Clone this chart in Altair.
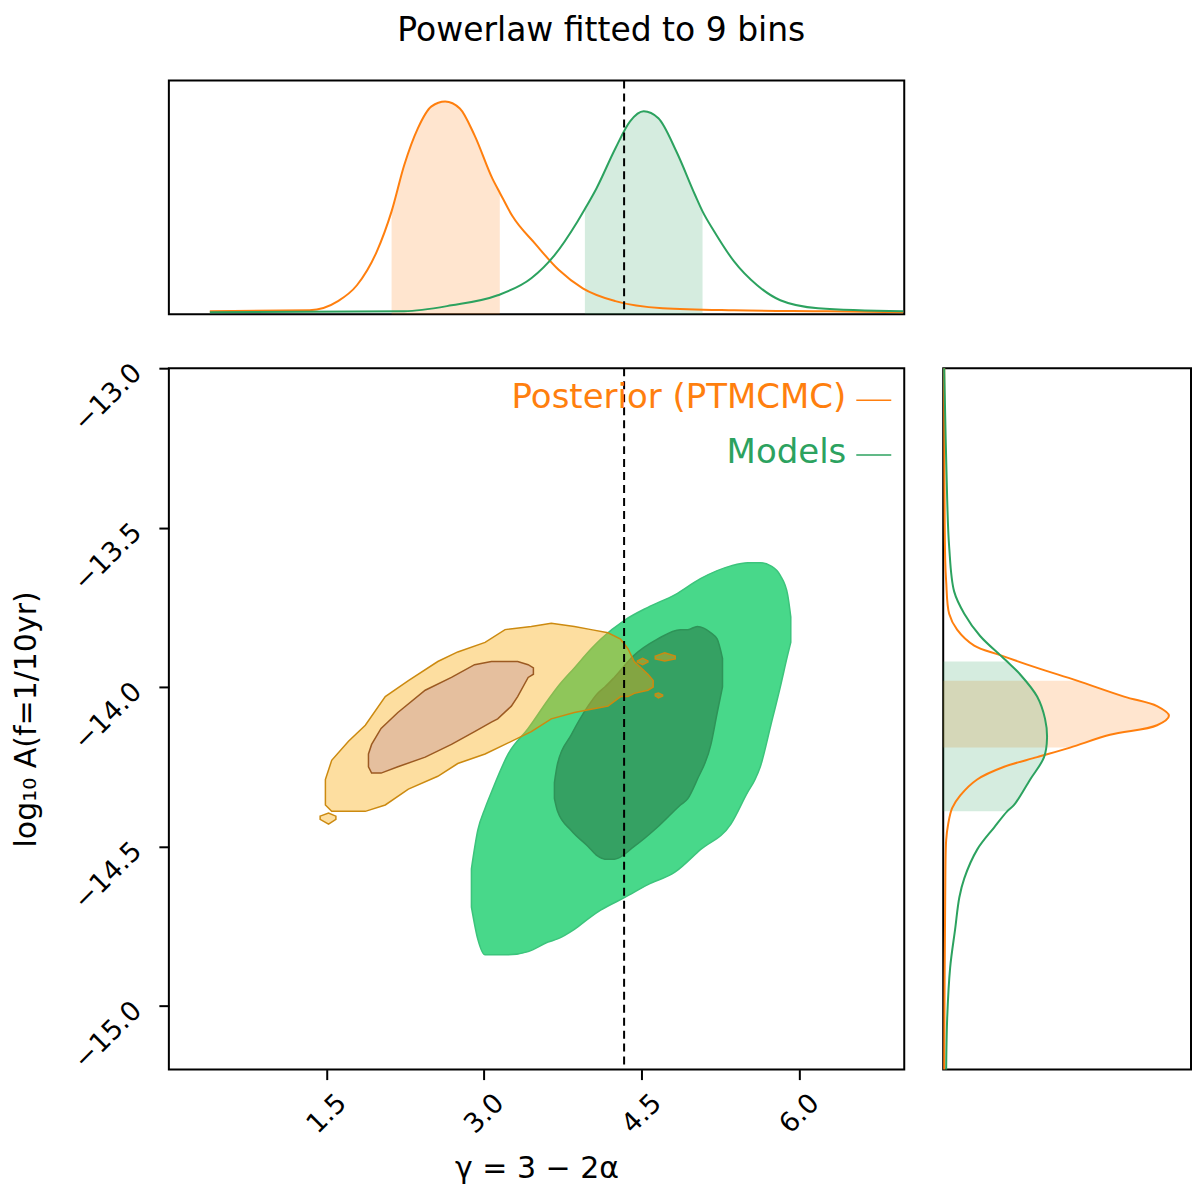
import altair as alt
import pandas as pd

##### Values

x_domain = [0.0, 7.0]
y_domain = [-15.2, -13.0]
x_ticks = [1.5, 3.0, 4.5, 6.0]
y_ticks = [-13.0, -13.5, -14.0, -14.5, -15.0]
gamma_ref = 13 / 3

# 2D credible regions: x -> (upper, lower) edge
green_outer_x = [2.88, 2.94, 3.01, 3.07, 3.23, 3.42, 3.61, 3.70, 3.86, 4.02, 4.11, 4.34,
                 4.56, 4.82, 5.06, 5.35, 5.51, 5.58, 5.63, 5.73, 5.82, 5.89, 5.92]
green_outer_hi = [-14.57, -14.45, -14.38, -14.33, -14.21, -14.13, -14.04, -14.00, -13.94, -13.88,
                  -13.85, -13.79, -13.75, -13.71, -13.66, -13.62, -13.61, -13.61, -13.61, -13.62,
                  -13.65, -13.71, -13.78]
green_outer_lo = [-14.69, -14.79, -14.84, -14.84, -14.84, -14.83, -14.80, -14.79, -14.76, -14.72,
                  -14.70, -14.66, -14.62, -14.58, -14.51, -14.43, -14.33, -14.29, -14.25, -14.12,
                  -14.00, -13.90, -13.86]

green_inner_x = [3.67, 3.70, 3.83, 3.99, 4.08, 4.15, 4.24, 4.43, 4.65, 4.87, 4.94, 5.03,
                 5.16, 5.22, 5.27]
green_inner_hi = [-14.30, -14.24, -14.15, -14.06, -14.02, -14.00, -13.97, -13.90, -13.85, -13.82,
                  -13.82, -13.81, -13.83, -13.85, -13.91]
green_inner_lo = [-14.35, -14.39, -14.45, -14.50, -14.53, -14.54, -14.54, -14.50, -14.44, -14.37,
                  -14.35, -14.29, -14.18, -14.08, -14.00]

orange_outer_x = [1.49, 1.55, 1.71, 1.87, 2.06, 2.28, 2.56, 2.75, 3.01, 3.20, 3.45, 3.64,
                  3.86, 4.02, 4.18, 4.30, 4.37, 4.43, 4.56, 4.61]
orange_outer_hi = [-14.29, -14.23, -14.17, -14.12, -14.03, -13.98, -13.92, -13.89, -13.86, -13.82,
                   -13.81, -13.80, -13.81, -13.82, -13.83, -13.85, -13.88, -13.92, -13.96, -13.98]
orange_outer_lo = [-14.37, -14.39, -14.39, -14.39, -14.37, -14.32, -14.28, -14.24, -14.21, -14.18,
                   -14.14, -14.10, -14.08, -14.07, -14.06, -14.03, -14.03, -14.02, -14.01, -14.00]

# small islands of the outer orange region
isle_a = ([1.44, 1.52, 1.59], [-14.405, -14.395, -14.405], [-14.415, -14.43, -14.415])
isle_b = ([4.46, 4.51, 4.56], [-13.918, -13.91, -13.918], [-13.922, -13.93, -13.922])
isle_c = ([4.63, 4.72, 4.82], [-13.903, -13.893, -13.903], [-13.912, -13.918, -13.912])
isle_d = ([4.63, 4.66, 4.70], [-14.022, -14.019, -14.025], [-14.028, -14.034, -14.028])

orange_inner_x = [1.90, 1.93, 2.02, 2.18, 2.44, 2.69, 2.91, 3.07, 3.13, 3.26, 3.32, 3.42, 3.47]
orange_inner_hi = [-14.21, -14.18, -14.13, -14.08, -14.01, -13.97, -13.93, -13.92, -13.92, -13.92,
                   -13.92, -13.93, -13.94]
orange_inner_lo = [-14.25, -14.27, -14.27, -14.25, -14.22, -14.18, -14.14, -14.11, -14.10, -14.06,
                   -14.03, -13.97, -13.96]

# 1D marginal of gamma (top), normalised height
top_orange_x = [0.39, 1.34, 1.61, 1.79, 1.98, 2.12, 2.24, 2.37, 2.50, 2.63, 2.77, 2.91, 3.08,
                3.15, 3.27, 3.49, 3.71, 3.94, 4.25, 4.70, 5.38, 6.27, 6.99]
top_orange_h = [0.013, 0.017, 0.056, 0.124, 0.269, 0.44, 0.637, 0.795, 0.889, 0.91, 0.88, 0.765,
                0.58, 0.52, 0.42, 0.30, 0.19, 0.111, 0.056, 0.026, 0.017, 0.013, 0.009]
top_green_x = [0.39, 2.24, 2.69, 3.13, 3.45, 3.67, 3.89, 3.96, 4.07, 4.25, 4.39, 4.52, 4.66,
               4.83, 5.01, 5.08, 5.19, 5.38, 5.60, 5.82, 6.18, 6.99]
top_green_h = [0.009, 0.013, 0.038, 0.081, 0.154, 0.252, 0.397, 0.45, 0.538, 0.709, 0.825, 0.868,
               0.838, 0.697, 0.509, 0.44, 0.355, 0.226, 0.124, 0.06, 0.026, 0.013]
top_orange_band = [2.12, 3.15]
top_green_band = [3.96, 5.08]

# 1D marginal of log10 A (right), normalised width
right_orange_y = [-13.00, -13.60, -13.67, -13.77, -13.82, -13.87, -13.90, -13.94, -13.98, -14.03,
                  -14.06, -14.09, -14.12, -14.15, -14.19, -14.22, -14.25, -14.29, -14.34, -14.38,
                  -14.43, -14.48, -14.66, -15.20]
right_orange_d = [0.004, 0.008, 0.012, 0.024, 0.056, 0.125, 0.23, 0.379, 0.54, 0.73, 0.863, 0.911,
                  0.863, 0.673, 0.512, 0.379, 0.246, 0.137, 0.069, 0.036, 0.02, 0.012, 0.008, 0.004]
right_green_y = [-13.00, -13.41, -13.56, -13.70, -13.77, -13.84, -13.90, -13.92, -13.96, -14.03,
                 -14.10, -14.16, -14.22, -14.29, -14.37, -14.39, -14.44, -14.51, -14.60, -14.66,
                 -14.76, -14.88, -15.04, -15.20]
right_green_d = [0.004, 0.016, 0.024, 0.044, 0.085, 0.149, 0.23, 0.258, 0.31, 0.379, 0.411, 0.419,
                 0.407, 0.351, 0.286, 0.258, 0.206, 0.137, 0.085, 0.065, 0.048, 0.028, 0.016, 0.012]
right_orange_band = [-14.19, -13.98]
right_green_band = [-14.39, -13.92]

ORANGE = "#ff7f0e"
GREEN = "#2ca25f"
FONT = "DejaVu Sans"


def region_df(parts):
    rows = []
    for name, (xs, his, los) in parts.items():
        for x, hi, lo in zip(xs, his, los):
            rows.append({"part": name, "x": x, "hi": hi, "lo": lo})
    return pd.DataFrame(rows)


x_scale = alt.Scale(domain=x_domain, nice=False, zero=False)
y_scale = alt.Scale(domain=y_domain, nice=False, zero=False)
unit_scale = alt.Scale(domain=[0, 1], nice=False, zero=False)

x_axis = alt.Axis(
    values=x_ticks, format=".1f", title="γ = 3 − 2α",
    labelAngle=-45, labelAlign="center", labelBaseline="middle", labelPadding=34,
    labelFontSize=27, labelFlush=False, tickSize=10, tickWidth=2, tickColor="black",
    titleFontSize=30, titleFontWeight="normal", titlePadding=16,
    grid=False, domain=False, labelColor="black", titleColor="black"
)
y_axis = alt.Axis(
    values=y_ticks, format=".1f", title="log₁₀ A(f=1/10yr)",
    labelAngle=-45, labelAlign="right", labelBaseline="middle", labelPadding=22,
    labelFontSize=27, labelFlush=False, tickSize=10, tickWidth=2, tickColor="black",
    titleFontSize=30, titleFontWeight="normal", titlePadding=27,
    grid=False, domain=False, labelColor="black", titleColor="black"
)


def region(df, fill, stroke, fill_opacity, interp):
    return (
        alt.Chart(df)
        .mark_area(fill=fill, fillOpacity=fill_opacity, stroke=stroke, strokeWidth=1.5,
                   strokeOpacity=1, interpolate=interp)
        .encode(
            x=alt.X("x:Q", scale=x_scale, axis=x_axis),
            y=alt.Y("hi:Q", scale=y_scale, axis=y_axis),
            y2="lo:Q",
            detail="part:N",
        )
    )


green_outer = region(region_df({"main": (green_outer_x, green_outer_hi, green_outer_lo)}),
                     "#48d88a", "#3cc47c", 1, "monotone")
green_inner = region(region_df({"main": (green_inner_x, green_inner_hi, green_inner_lo)}),
                     "#35a163", "#2e9358", 1, "monotone")
orange_outer = region(region_df({
    "main": (orange_outer_x, orange_outer_hi, orange_outer_lo),
    "a": isle_a, "b": isle_b, "c": isle_c, "d": isle_d,
}), "#faac11", "#cc8a10", 0.4, "linear")
orange_inner = region(region_df({"main": (orange_inner_x, orange_inner_hi, orange_inner_lo)}),
                      "#e5bf9e", "#9c5a22", 1, "linear")

ref_df = pd.DataFrame({"x": [gamma_ref]})


def ref_rule(axis):
    return alt.Chart(ref_df).mark_rule(color="black", strokeWidth=2, strokeDash=[8, 5]).encode(
        x=alt.X("x:Q", scale=x_scale, axis=axis)
    )


one = pd.DataFrame({"a": [0]})


def legend_entry(label, color, ypos):
    txt = alt.Chart(one).mark_text(
        text=label, align="right", baseline="middle", fontSize=34, color=color, font=FONT
    ).encode(x=alt.value(678), y=alt.value(ypos))
    line = alt.Chart(one).mark_rule(color=color, strokeWidth=1.5).encode(
        x=alt.value(688), x2=alt.value(723), y=alt.value(ypos + 2)
    )
    return txt + line


main = alt.layer(
    green_outer, green_inner, orange_outer, orange_inner, ref_rule(x_axis),
    legend_entry("Posterior (PTMCMC)", ORANGE, 30),
    legend_entry("Models", GREEN, 85),
).properties(width=736, height=702)

##### Top marginal

top_o = pd.DataFrame({"x": top_orange_x, "h": top_orange_h})
top_g = pd.DataFrame({"x": top_green_x, "h": top_green_h})


def top_band(df, band, color):
    return (
        alt.Chart(df)
        .transform_filter(alt.FieldRangePredicate(field="x", range=band))
        .mark_area(color=color, opacity=0.2, interpolate="monotone")
        .encode(x=alt.X("x:Q", scale=x_scale, axis=None),
                y=alt.Y("h:Q", scale=unit_scale, axis=None))
    )


def top_line(df, color):
    return alt.Chart(df).mark_line(color=color, strokeWidth=2, interpolate="monotone").encode(
        x=alt.X("x:Q", scale=x_scale, axis=None),
        y=alt.Y("h:Q", scale=unit_scale, axis=None),
    )


top = alt.layer(
    top_band(top_o, top_orange_band, ORANGE),
    top_band(top_g, top_green_band, GREEN),
    top_line(top_o, ORANGE),
    top_line(top_g, GREEN),
    ref_rule(None),
).properties(width=736, height=234)

##### Right marginal

right_o = pd.DataFrame({"y": right_orange_y, "d": right_orange_d})
right_g = pd.DataFrame({"y": right_green_y, "d": right_green_d})


def right_band(df, band, color):
    return (
        alt.Chart(df)
        .transform_filter(alt.FieldRangePredicate(field="y", range=band))
        .mark_area(color=color, opacity=0.2, orient="horizontal", interpolate="catmull-rom")
        .encode(x=alt.X("d:Q", scale=unit_scale, axis=None),
                y=alt.Y("y:Q", scale=y_scale, axis=None))
    )


def right_line(df, color):
    return alt.Chart(df).mark_line(color=color, strokeWidth=2, interpolate="catmull-rom").encode(
        x=alt.X("d:Q", scale=unit_scale, axis=None),
        y=alt.Y("y:Q", scale=y_scale, axis=None),
        order="y:Q",
    )


right = alt.layer(
    right_band(right_o, right_orange_band, ORANGE),
    right_band(right_g, right_green_band, GREEN),
    right_line(right_o, ORANGE),
    right_line(right_g, GREEN),
).properties(width=248, height=702)

blank = alt.Chart(one).mark_point(opacity=0).encode(
    x=alt.value(0), y=alt.value(0)
).properties(width=248, height=234, view=alt.ViewBackground(stroke="transparent"))

chart = (
    alt.concat(top, blank, main, right, columns=2, spacing={"row": 54, "column": 39},
               bounds="flush", align="each")
    .properties(
        title=alt.TitleParams("Powerlaw fitted to 9 bins", fontSize=33, fontWeight="normal",
                              font=FONT, color="black", anchor="middle", offset=29),
        padding={"left": 2, "top": 6, "right": 0, "bottom": 0},
        background="white",
    )
    .configure(font=FONT)
    .configure_view(stroke="black", strokeWidth=2)
)

chart.save("out.html", embed_options={"renderer": "svg", "actions": False})
